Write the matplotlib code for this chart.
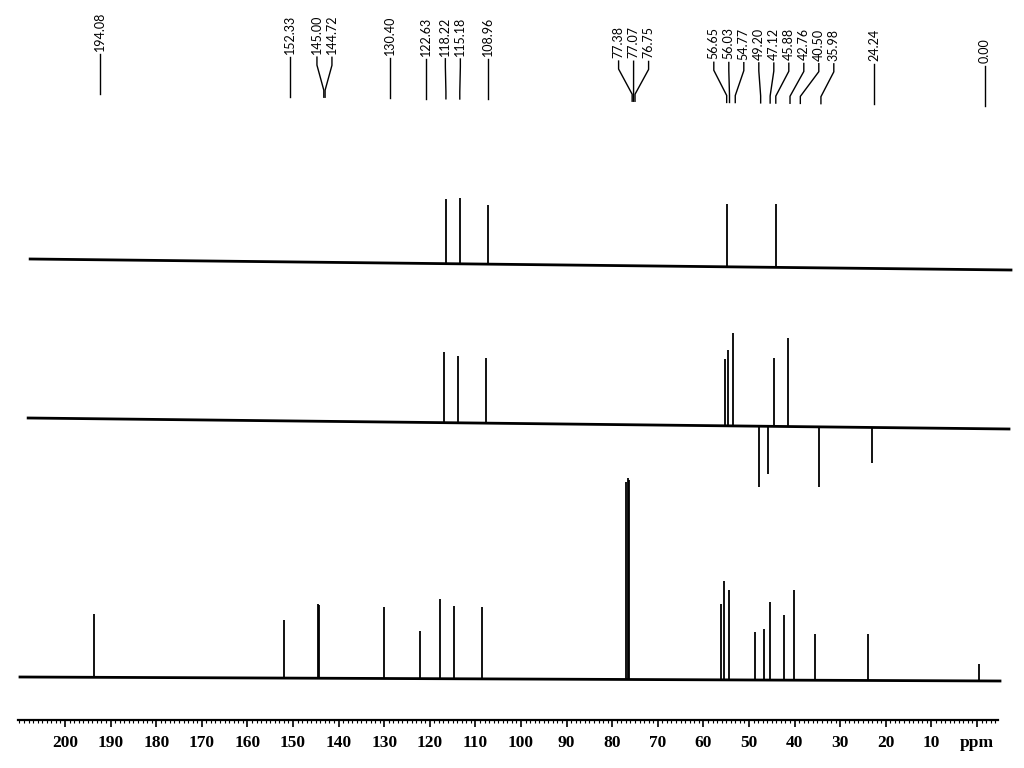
import matplotlib.pyplot as plt
import matplotlib.transforms as mtransforms
from matplotlib.ticker import MultipleLocator

# 13C NMR (bottom), DEPT-135 (middle), DEPT-90 (top) -- shifts in ppm
ppm_c13 = [194.08, 152.33, 145.00, 144.72, 130.40, 122.63, 118.22, 115.18,
           108.96, 77.38, 77.07, 76.75, 56.65, 56.03, 54.77, 49.20, 47.12,
           45.88, 42.76, 40.50, 35.98, 24.24, 0.00]
int_c13 = [63, 58, 74, 73, 71, 48, 80, 73, 72, 197, 201, 199, 76, 99, 90,
           48, 51, 78, 65, 90, 46, 46, 17]

ppm_dept135 = [118.22, 115.18, 108.96, 56.65, 56.03, 54.77, 49.20, 47.12,
               45.88, 42.76, 35.98, 24.24]
int_dept135 = [71, 67, 65, 67, 76, 93, -61, -48, 68, 89, -60, -36]

ppm_dept90 = [118.22, 115.18, 108.96, 56.65, 45.88]
int_dept90 = [65, 66, 59, 63, 63]

major_ticks = list(range(200, -1, -10))
major_text = [str(t) for t in major_ticks[:-1]] + ["ppm"]

# ------------------------------------------------------------------
W, H = 1024, 768
X0, X1 = 210.31, -4.605
AX_L, AX_W, AX_B = 18, 980, 48

fig = plt.figure(figsize=(W / 100, H / 100), dpi=100)
ax = fig.add_axes([AX_L / W, AX_B / H, AX_W / W, (H - AX_B) / H])
ax.set_xlim(X0, X1)
ax.set_ylim(0, H - AX_B)


def px(p):
    return AX_L + (X0 - p) / (X0 - X1) * AX_W


def ppm_at(x):
    return X0 - (x - AX_L) / AX_W * (X0 - X1)


def shifted(dx):
    return ax.transData + mtransforms.ScaledTranslation(dx / 100, 0, fig.dpi_scale_trans)


# traces: shifts, intensities, baseline left/right level, extent, x shift (px)
traces = [
    (ppm_c13, int_c13, 43, 39, X0, X1, 2),
    (ppm_dept135, int_dept135, 302, 291, 209.4, -5.7, 6),
    (ppm_dept90, int_dept90, 461, 450, 209.4, -5.7, 8),
]
for ppm, inten, yl, yr, xa, xb, dx in traces:
    tr = shifted(dx)
    ax.plot([xa, xb], [yl, yr], color="black", lw=2.0, transform=tr, clip_on=False)
    for p, h in zip(ppm, inten):
        yb = yl + (yr - yl) * (xa - p) / (xa - xb)
        ax.plot([p, p], [yb, yb + h], color="black", lw=1.3, transform=tr,
                clip_on=False, solid_capstyle="butt")

# ppm scale
for s in ["top", "left", "right"]:
    ax.spines[s].set_visible(False)
ax.spines["bottom"].set_linewidth(1.6)
ax.set_yticks([])
ax.set_xticks(major_ticks)
ax.set_xticklabels(major_text, family="Liberation Serif", fontsize=12.5, fontweight="bold")
ax.xaxis.set_minor_locator(MultipleLocator(1))
ax.tick_params(axis="x", which="major", length=5, width=1.2, direction="out", pad=6)
ax.tick_params(axis="x", which="minor", length=2.5, width=0.8, direction="out")


# peak labels on top, spread so they do not overlap
def spread(xs, gap):
    clusters = [[i] for i in range(len(xs))]
    pos = list(xs)
    merged = True
    while merged:
        merged = False
        for k in range(len(clusters) - 1):
            a, b = clusters[k], clusters[k + 1]
            if pos[b[0]] - pos[a[-1]] < gap - 1e-6:
                c = a + b
                mid = (xs[c[0]] + xs[c[-1]]) / 2
                for j, i in enumerate(c):
                    pos[i] = mid + (j - (len(c) - 1) / 2) * gap
                clusters[k:k + 2] = [c]
                merged = True
                break
    return pos


tilt = 0.013
lab_px = [px(p) + 8 for p in ppm_c13]
txt_px = spread(lab_px, 15)


def yy(ypx, x):
    return H - AX_B - (ypx + tilt * x)


for p0, t0, val in zip(lab_px, txt_px, ppm_c13):
    xs = [t0, t0, p0, p0]
    ys = [yy(53, t0), yy(61, t0), yy(86, p0), yy(93, p0)]
    ax.plot([ppm_at(x) for x in xs], ys, color="black", lw=1.0, clip_on=False)
    ax.text(ppm_at(t0), yy(50, t0), f"{val:.2f}", rotation=90, ha="center",
            va="bottom", fontsize=9, family="Lato")

fig.savefig("out.png", dpi=100)
